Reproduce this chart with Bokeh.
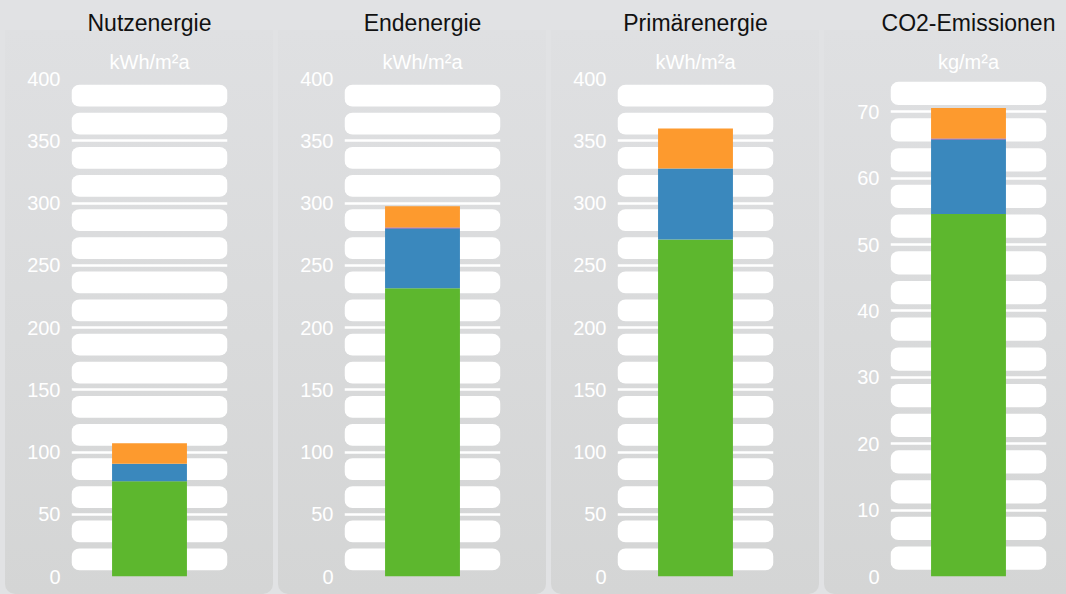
from bokeh.plotting import figure
from bokeh.layouts import row
from bokeh.models import (ColumnDataSource, Title, FixedTicker, Spacer)
from bokeh.embed import file_html
from bokeh.resources import INLINE

# ---- data ----
panels = ["Nutzenergie", "Endenergie", "Primärenergie", "CO2-Emissionen"]
units = ["kWh/m²a", "kWh/m²a", "kWh/m²a", "kg/m²a"]
green = [76.5, 231.5, 270.7, 54.6]
blue = [14.0, 48.0, 57.0, 11.2]
purple = [0.0, 0.9, 0.0, 0.15]
orange = [16.6, 17.0, 32.1, 4.6]
y_max = [400, 400, 400, 75]
tick_step = [50, 50, 50, 10]
tick_max = [400, 400, 400, 70]

series = ["green", "blue", "purple", "orange"]
colors = ["#5db72e", "#3a88bd", "#7b3f96", "#fd9a2e"]

FONT = "Liberation Sans"
OUTER = "#e1e2e4"

figs = []
for i, name in enumerate(panels):
    last = i == len(panels) - 1
    w = 242 if last else 268
    p = figure(width=w, height=594, x_range=(0, 1), y_range=(0, y_max[i]),
               x_axis_location=None, y_axis_location="left",
               toolbar_location=None, output_backend="svg", title=None,
               min_border_left=66, min_border_right=w - 66 - 156,
               min_border_top=77, min_border_bottom=18,
               background_fill_color=None, border_fill_color=None,
               outline_line_color=None)
    radius = "0 0 0 10px" if last else "0 0 10px 10px"
    p.styles = {
        "background": "linear-gradient(to bottom, rgba(0,0,0,0) 0px, rgba(0,0,0,0) 30px, #dfe0e2 30px, #d4d5d5 100%)",
        "border-radius": radius,
    }

    ticks = list(range(0, tick_max[i] + 1, tick_step[i]))
    ax = p.yaxis[0]
    ax.ticker = FixedTicker(ticks=ticks)
    ax.axis_line_color = None
    ax.major_tick_line_color = None
    ax.minor_tick_line_color = None
    ax.major_tick_out = 0
    ax.major_tick_in = 0
    ax.major_label_standoff = 11
    ax.major_label_text_color = "#ffffff"
    ax.major_label_text_font = FONT
    ax.major_label_text_font_size = "20px"

    p.ygrid.ticker = FixedTicker(ticks=ticks)
    p.ygrid.grid_line_color = "#ffffff"
    p.ygrid.grid_line_width = 2.5
    p.xgrid.grid_line_color = None

    # decorative rounded bands between grid lines
    st = tick_step[i]
    bb, bt = [], []
    for g in range(0, tick_max[i] + st, st):
        for a, b in ((0.1, 0.45), (0.55, 0.9)):
            lo, hi = g + a * st, g + b * st
            if lo < y_max[i]:
                bb.append(lo)
                bt.append(min(hi, y_max[i] + st))
    p.quad(left=0, right=1, bottom=bb, top=bt, fill_color="#ffffff",
           line_color=None, border_radius=8)

    src = ColumnDataSource(dict(x=[0.5], green=[green[i]], blue=[blue[i]],
                                purple=[purple[i]], orange=[orange[i]]))
    p.vbar_stack(series, x="x", width=0.48, source=src,
                 fill_color=colors, line_color=None)

    p.add_layout(Title(text=units[i], align="center", text_color="#ffffff",
                       text_font=FONT, text_font_size="20px",
                       text_font_style="normal", standoff=11), "above")
    p.add_layout(Title(text=name, align="center", text_color="#111111",
                       text_font=FONT, text_font_size="23px",
                       text_font_style="normal", standoff=15), "above")
    figs.append(p)

layout = row(children=[Spacer(width=0, height=594)] + figs, spacing=5)
layout.styles = {"background-color": OUTER}

open("out.html", "w").write(file_html(layout, INLINE))
